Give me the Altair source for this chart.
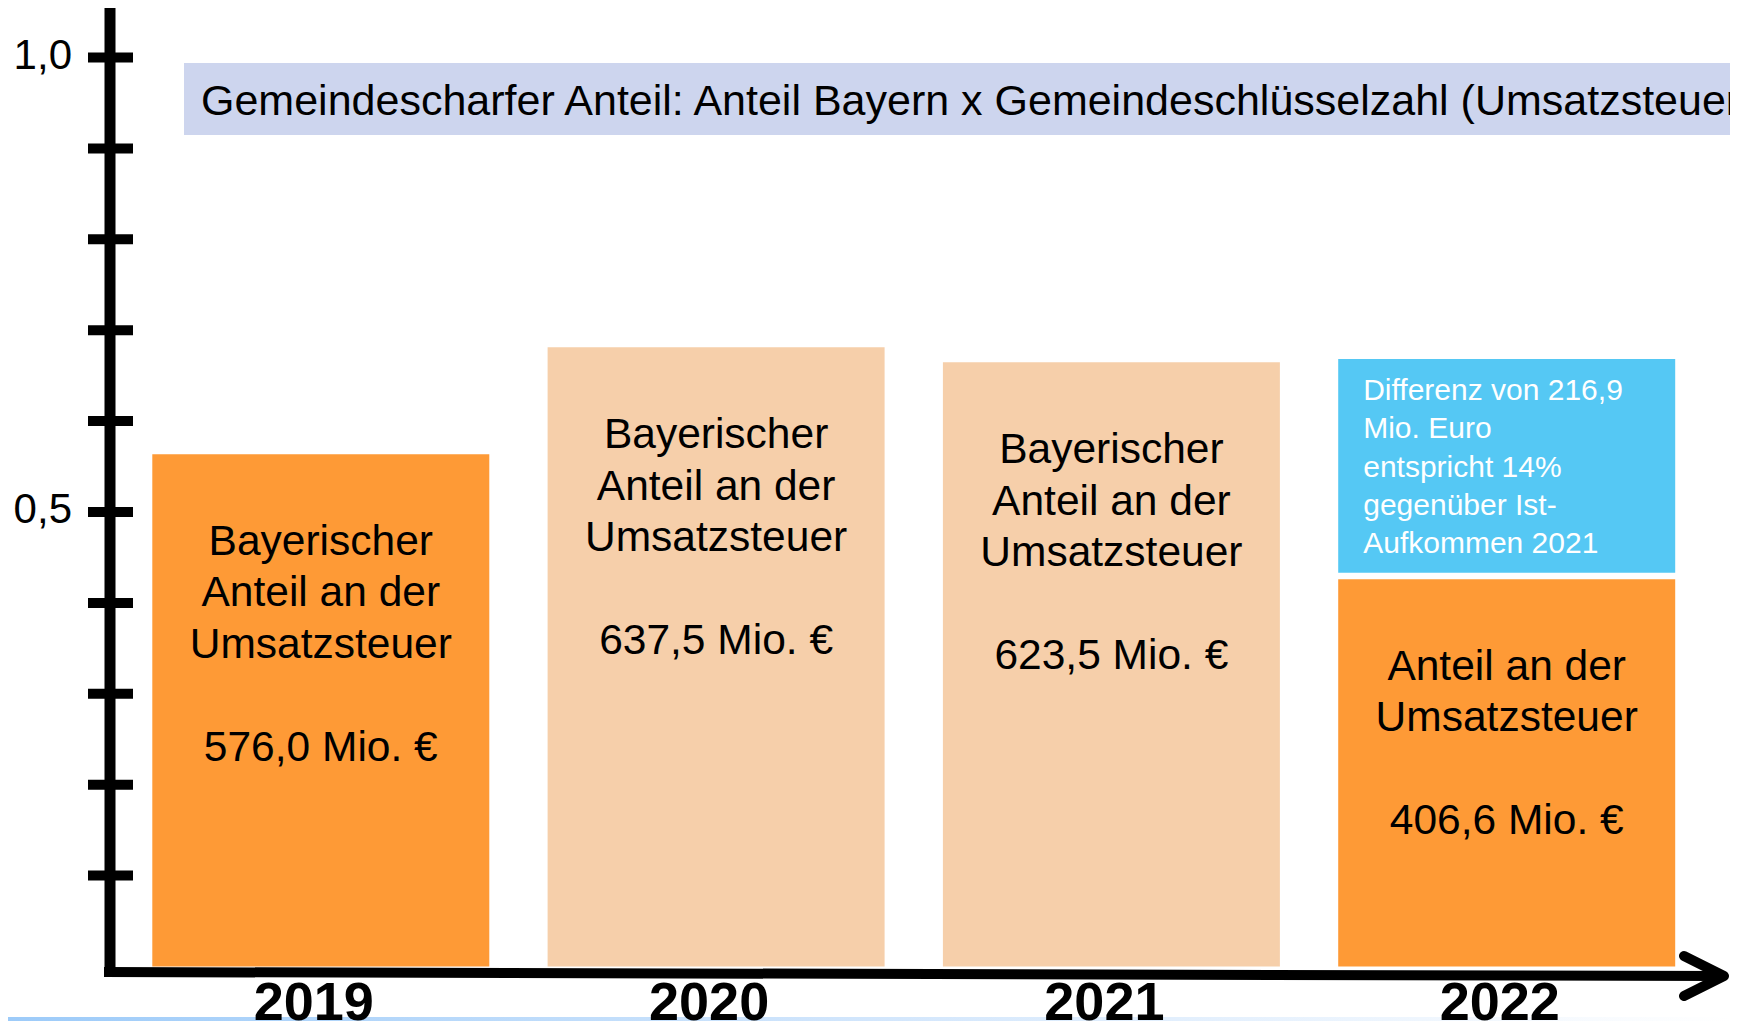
import altair as alt
import pandas as pd

# ---------------- data ----------------
years = ["2019", "2020", "2021", "2022"]
bar_top = [0.5635, 0.6812, 0.6647, 0.4260]
bar_bottom = [0.0, 0.0, 0.0, 0.0]
bar_kind = ["Ist", "Vorjahr", "Vorjahr", "Ist"]
bar_titles = [
    "Bayerischer\nAnteil an der\nUmsatzsteuer",
    "Bayerischer\nAnteil an der\nUmsatzsteuer",
    "Bayerischer\nAnteil an der\nUmsatzsteuer",
    "Anteil an der\nUmsatzsteuer",
]
bar_title_lines = [3, 3, 3, 2]
bar_amounts = ["576,0 Mio. €", "637,5 Mio. €", "623,5 Mio. €", "406,6 Mio. €"]

diff_year = ["2022"]
diff_bottom = [0.4332]
diff_top = [0.6684]
diff_text = ["Differenz von 216,9\nMio. Euro\nentspricht 14%\ngegenüber Ist-\nAufkommen 2021"]

tick_values = [0.1, 0.2, 0.3, 0.4, 0.5, 0.6, 0.7, 0.8, 0.9, 1.0]
tick_label_values = [1.0, 0.5]
tick_label_texts = ["1,0", "0,5"]

banner_text = "Gemeindescharfer Anteil: Anteil Bayern x Gemeindeschlüsselzahl (Umsatzsteuer)"

# ---------------- layout / style ----------------
W, H = 1722, 1013
FONT = "Liberation Sans, Arial, Helvetica, sans-serif"
ORANGE = "#FE9A36"
PEACH = "#F6CFAA"
BLUE = "#55C8F4"
BANNER = "#CDD5EE"
LINE_H = 51.5

yscale = alt.Scale(domain=[(958.4 - H) / 908.8, 958.4 / 908.8], nice=False, zero=False)
xscale = alt.Scale(domain=years, range=[144.3, 1667.2], paddingInner=0.1475, paddingOuter=0)

bars_df = pd.DataFrame({
    "year": years, "top": bar_top, "bottom": bar_bottom, "kind": bar_kind,
    "title": bar_titles, "amount": bar_amounts, "nlines": bar_title_lines,
})
diff_df = pd.DataFrame({"year": diff_year, "top": diff_top, "bottom": diff_bottom, "label": diff_text})
ticks_df = pd.DataFrame({"top": tick_values})
tlab_df = pd.DataFrame({"top": tick_label_values, "label": tick_label_texts})
years_df = pd.DataFrame({"year": years})
one = pd.DataFrame({"a": [0]})

X = lambda: alt.X("year:N", scale=xscale, axis=None)
Y = lambda f="top": alt.Y(f"{f}:Q", scale=yscale, axis=None)

band = alt.Chart(one).mark_rect(
    color=alt.Gradient(
        gradient="linear",
        stops=[alt.GradientStop(color="#9DCBF9", offset=0),
               alt.GradientStop(color="#D2E6FC", offset=0.5),
               alt.GradientStop(color="#FFFFFF", offset=1)],
        x1=0, x2=1, y1=0, y2=0)
).encode(x=alt.value(0), x2=alt.value(W), y=alt.value(1009), y2=alt.value(H))

banner = alt.Chart(one).mark_rect(color=BANNER).encode(
    x=alt.value(176), x2=alt.value(W), y=alt.value(55), y2=alt.value(127))

banner_lbl = alt.Chart(one).mark_text(
    text=banner_text, font=FONT, fontSize=43, align="left", baseline="alphabetic", color="#000000"
).encode(x=alt.value(193), y=alt.value(107))

bars = alt.Chart(bars_df).mark_bar().encode(
    x=X(), y=Y("top"), y2="bottom:Q",
    color=alt.Color("kind:N", scale=alt.Scale(domain=["Ist", "Vorjahr"], range=[ORANGE, PEACH]), legend=None),
)

diff_box = alt.Chart(diff_df).mark_bar(color=BLUE).encode(x=X(), y=Y("top"), y2="bottom:Q")

bar_lbl = alt.Chart(bars_df).mark_text(
    font=FONT, fontSize=42.5, lineHeight=LINE_H, lineBreak="\n", align="center",
    baseline="alphabetic", dy=100.7, color="#000000"
).encode(x=X(), y=Y("top"), text="title:N")

# amount line sits one blank line below the title block
amt_3 = alt.Chart(bars_df).transform_filter("datum.nlines == 3").mark_text(
    font=FONT, fontSize=42.5, align="center", baseline="alphabetic",
    dy=100.7 + 4 * LINE_H, color="#000000"
).encode(x=X(), y=Y("top"), text="amount:N")
amt_2 = alt.Chart(bars_df).transform_filter("datum.nlines == 2").mark_text(
    font=FONT, fontSize=42.5, align="center", baseline="alphabetic",
    dy=100.7 + 3 * LINE_H, color="#000000"
).encode(x=X(), y=Y("top"), text="amount:N")

diff_lbl = alt.Chart(diff_df).mark_text(
    font=FONT, fontSize=30, lineHeight=38.3, lineBreak="\n", align="left",
    baseline="alphabetic", dy=41, dx=25, color="#FFFFFF"
).encode(x=alt.X("year:N", scale=xscale, axis=None, bandPosition=0), y=Y("top"), text="label:N")

y_axis = alt.Chart(one).mark_rule(color="#000000", strokeWidth=11, strokeCap="butt").encode(
    x=alt.value(102), y=alt.value(0), y2=alt.value(969))

ticks = alt.Chart(ticks_df).mark_rule(color="#000000", strokeWidth=10, strokeCap="butt").encode(
    x=alt.value(80), x2=alt.value(125), y=Y("top"))

tick_lbl = alt.Chart(tlab_df).mark_text(
    font=FONT, fontSize=42, align="right", baseline="middle", dy=-2, color="#000000"
).encode(x=alt.value(64), y=Y("top"), text="label:N")

x_axis = alt.Chart(one).mark_rule(color="#000000", strokeWidth=10, strokeCap="butt").encode(
    x=alt.value(96), x2=alt.value(1716), y=alt.value(964), y2=alt.value(968))

arrow = alt.Chart(one).mark_point(
    shape="M-1,-0.5L0,0L-1,0.5", filled=False, stroke="#000000", strokeWidth=10,
    size=6400, strokeCap="round", strokeJoin="round", opacity=1
).encode(x=alt.value(1716), y=alt.value(968))

year_lbl = alt.Chart(years_df).mark_text(
    font=FONT, fontSize=54, fontWeight="bold", align="center", baseline="alphabetic", dx=-7,
    color="#000000"
).encode(x=X(), y=alt.value(1012), text="year:N")

chart = alt.layer(
    band, banner, banner_lbl, bars, diff_box, bar_lbl, amt_3, amt_2, diff_lbl,
    y_axis, ticks, tick_lbl, x_axis, arrow, year_lbl
).properties(
    width=W, height=H, autosize=alt.AutoSizeParams(type="none"), padding=0, background="#FFFFFF"
).configure_view(stroke=None)

chart.save("out.html", embed_options={"renderer": "svg", "actions": False})
